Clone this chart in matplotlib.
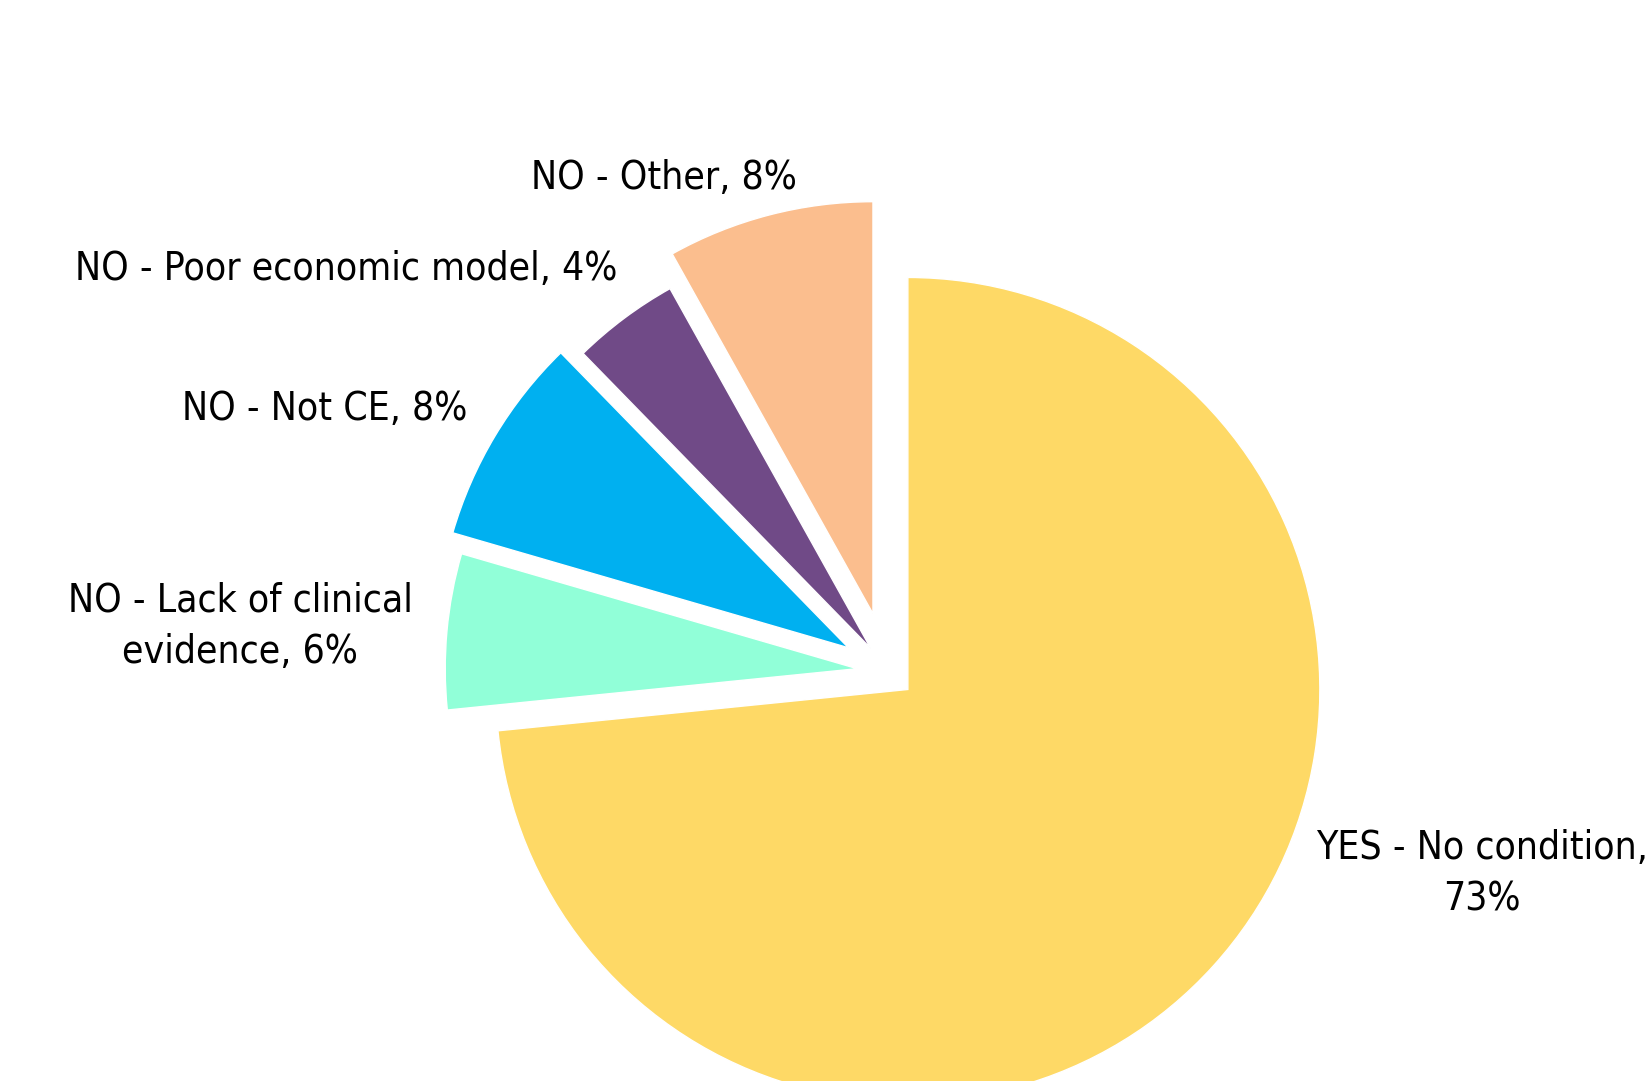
import matplotlib
matplotlib.use("Agg")
import matplotlib.pyplot as plt

# ---- data ----
categories = ["YES - No condition,\n73%",
              "NO - Lack of clinical\nevidence, 6%",
              "NO - Not CE, 8%",
              "NO - Poor economic model, 4%",
              "NO - Other, 8%"]
shares = [73.4, 6.1, 8.2, 4.2, 8.1]
colors = ["#FED966", "#91FFD8", "#00B0F0", "#704A87", "#FBBE8E"]
explode_frac = [0.065, 0.075, 0.112, 0.07, 0.145]

# ---- layout (pixel space) ----
W, H = 1647, 1081
cx, cy, R = 888, H - 671.5, 412
label_xy = [(1482, H - 874), (240, H - 626), (325, H - 409), (346, H - 269), (664, H - 178)]

plt.rcParams['font.family'] = ['DejaVu Sans']

fig = plt.figure(figsize=(W / 100, H / 100), dpi=100)
ax = fig.add_axes([0, 0, 1, 1])
ax.pie(shares, colors=colors, explode=[e * R for e in explode_frac],
       startangle=90, counterclock=False,
       center=(cx, cy), radius=R, wedgeprops=dict(edgecolor="white", linewidth=1))
ax.set_xlim(0, W)
ax.set_ylim(0, H)
ax.set_aspect('auto')
ax.axis('off')

for txt, (x, y) in zip(categories, label_xy):
    ax.text(x, y, txt, ha='center', va='center', fontsize=28, color='black',
            linespacing=1.45, fontstretch='condensed')

fig.savefig("out.png", dpi=100, facecolor="white")
